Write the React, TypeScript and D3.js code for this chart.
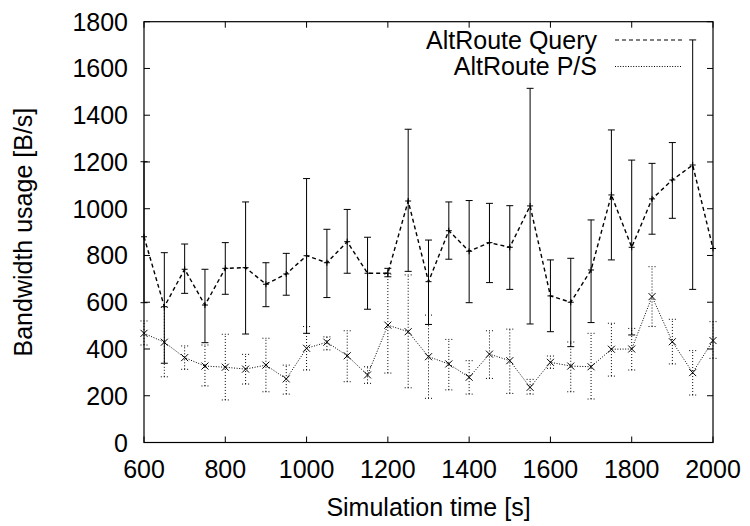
import React from "react";
import * as d3 from "d3";

const times = [600, 650, 700, 750, 800, 850, 900, 950, 1000, 1050, 1100, 1150, 1200, 1250, 1300, 1350, 1400, 1450, 1500, 1550, 1600, 1650, 1700, 1750, 1800, 1850, 1900, 1950, 2000];

const queryMean = [880, 581, 741, 588, 745, 748, 677, 721, 799, 769, 859, 724, 724, 1033, 688, 906, 818, 855, 835, 1012, 627, 600, 738, 1059, 835, 1042, 1123, 1187, 830];
const queryLow = [598, 339, 638, 427, 634, 464, 581, 630, 467, 620, 724, 570, 709, 732, 505, 784, 598, 684, 655, 507, 474, 410, 513, 781, 460, 891, 959, 655, null];
const queryHigh = [1201, 812, 849, 741, 855, 1029, 769, 809, 1129, 912, 997, 878, 745, 1340, 866, 1029, 1035, 1023, 1013, 1515, 781, 788, 952, 1337, 1208, 1194, 1283, 1722, null];

const psMean = [467, 429, 363, 327, 322, 314, 331, 272, 403, 429, 371, 289, 502, 474, 367, 336, 279, 378, 350, 236, 343, 327, 324, 399, 400, 624, 431, 299, 436];
const psLow = [417, 281, 313, 242, 182, 250, 217, 207, 310, 396, 260, 253, 297, 234, 189, 225, 207, 274, 210, 207, 317, 217, 186, 284, 310, 496, 336, 203, 360];
const psHigh = [520, 578, 413, 417, 463, 377, 446, 331, 496, 452, 478, 324, 720, 717, 545, 441, 350, 478, 485, 270, 370, 430, 467, 510, 488, 752, 527, 393, 517];

const xTicks = [600, 800, 1000, 1200, 1400, 1600, 1800, 2000];
const yTicks = [0, 200, 400, 600, 800, 1000, 1200, 1400, 1600, 1800];

const seriesNames = ["AltRoute Query", "AltRoute P/S"];

const W = 750, H = 526;
const L = 144, R = 713, T = 21.7, B = 442.5;
const FONT = "'Liberation Sans', Arial, Helvetica, sans-serif";
const FS = 25;

export default function App() {
  const x = d3.scaleLinear().domain([600, 2000]).range([L, R]);
  const y = d3.scaleLinear().domain([0, 1800]).range([B, T]);
  const line = d3.line<[number, number]>().x(d => x(d[0])).y(d => y(d[1]));

  const qPts: [number, number][] = times.map((t, i) => [t, queryMean[i]]);
  const pPts: [number, number][] = times.map((t, i) => [t, psMean[i]]);
  const cap = 3.5;

  return (
    <div style={{ position: "absolute", left: 0, top: 0 }}>
      <svg width={W} height={H} style={{ display: "block", background: "#fff" }} fontFamily={FONT}>
        {/* ticks */}
        {xTicks.map(t => (
          <g key={"xt" + t}>
            <line x1={x(t)} x2={x(t)} y1={B} y2={B - 6} stroke="#000" />
            <line x1={x(t)} x2={x(t)} y1={T} y2={T + 6} stroke="#000" />
            <text x={x(t)} y={B + 35} textAnchor="middle" fontSize={FS}>{t}</text>
          </g>
        ))}
        {yTicks.map(t => (
          <g key={"yt" + t}>
            <line x1={L} x2={L + 6} y1={y(t)} y2={y(t)} stroke="#000" />
            <line x1={R} x2={R - 6} y1={y(t)} y2={y(t)} stroke="#000" />
            <text x={128} y={y(t) + 9} textAnchor="end" fontSize={FS}>{t}</text>
          </g>
        ))}

        {/* P/S error bars */}
        {times.map((t, i) => (
          <g key={"pe" + i} stroke="#000" strokeWidth={1} strokeDasharray="1,2">
            <line x1={x(t)} x2={x(t)} y1={y(psLow[i])} y2={y(psHigh[i])} />
            <line x1={x(t) - cap} x2={x(t) + cap} y1={y(psLow[i])} y2={y(psLow[i])} />
            <line x1={x(t) - cap} x2={x(t) + cap} y1={y(psHigh[i])} y2={y(psHigh[i])} />
          </g>
        ))}
        {/* Query error bars */}
        {times.map((t, i) =>
          queryLow[i] == null || queryHigh[i] == null ? null : (
            <g key={"qe" + i} stroke="#000" strokeWidth={1}>
              <line x1={x(t)} x2={x(t)} y1={y(queryLow[i] as number)} y2={y(queryHigh[i] as number)} />
              <line x1={x(t) - cap} x2={x(t) + cap} y1={y(queryLow[i] as number)} y2={y(queryLow[i] as number)} />
              <line x1={x(t) - cap} x2={x(t) + cap} y1={y(queryHigh[i] as number)} y2={y(queryHigh[i] as number)} />
            </g>
          )
        )}

        {/* lines */}
        <path d={line(qPts) || ""} fill="none" stroke="#000" strokeWidth={1.4} strokeDasharray="4,3" />
        <path d={line(pPts) || ""} fill="none" stroke="#000" strokeWidth={1} strokeDasharray="1,1.6" />

        {/* markers */}
        {qPts.map((p, i) => (
          <g key={"qm" + i} stroke="#000" strokeWidth={1}>
            <line x1={x(p[0]) - 3} x2={x(p[0]) + 3} y1={y(p[1])} y2={y(p[1])} />
            <line x1={x(p[0])} x2={x(p[0])} y1={y(p[1]) - 3} y2={y(p[1]) + 3} />
          </g>
        ))}
        {pPts.map((p, i) => (
          <g key={"pm" + i} stroke="#000" strokeWidth={1}>
            <line x1={x(p[0]) - 3.5} x2={x(p[0]) + 3.5} y1={y(p[1]) - 3.5} y2={y(p[1]) + 3.5} />
            <line x1={x(p[0]) - 3.5} x2={x(p[0]) + 3.5} y1={y(p[1]) + 3.5} y2={y(p[1]) - 3.5} />
          </g>
        ))}

        {/* frame */}
        <rect x={L} y={T} width={R - L} height={B - T} fill="none" stroke="#000" strokeWidth={1.2} />

        {/* legend */}
        <text x={597} y={49} textAnchor="end" fontSize={FS}>{seriesNames[0]}</text>
        <line x1={615} x2={682} y1={40} y2={40} stroke="#000" strokeWidth={1.2} strokeDasharray="4,3" />
        <text x={597} y={75} textAnchor="end" fontSize={FS}>{seriesNames[1]}</text>
        <line x1={615} x2={682} y1={66.5} y2={66.5} stroke="#000" strokeWidth={1} strokeDasharray="1,1.6" />

        {/* axis titles */}
        <text x={(L + R) / 2} y={516} textAnchor="middle" fontSize={FS}>Simulation time [s]</text>
        <text transform={`translate(32, ${(T + B) / 2}) rotate(-90)`} textAnchor="middle" fontSize={FS}>Bandwidth usage [B/s]</text>
      </svg>
    </div>
  );
}
